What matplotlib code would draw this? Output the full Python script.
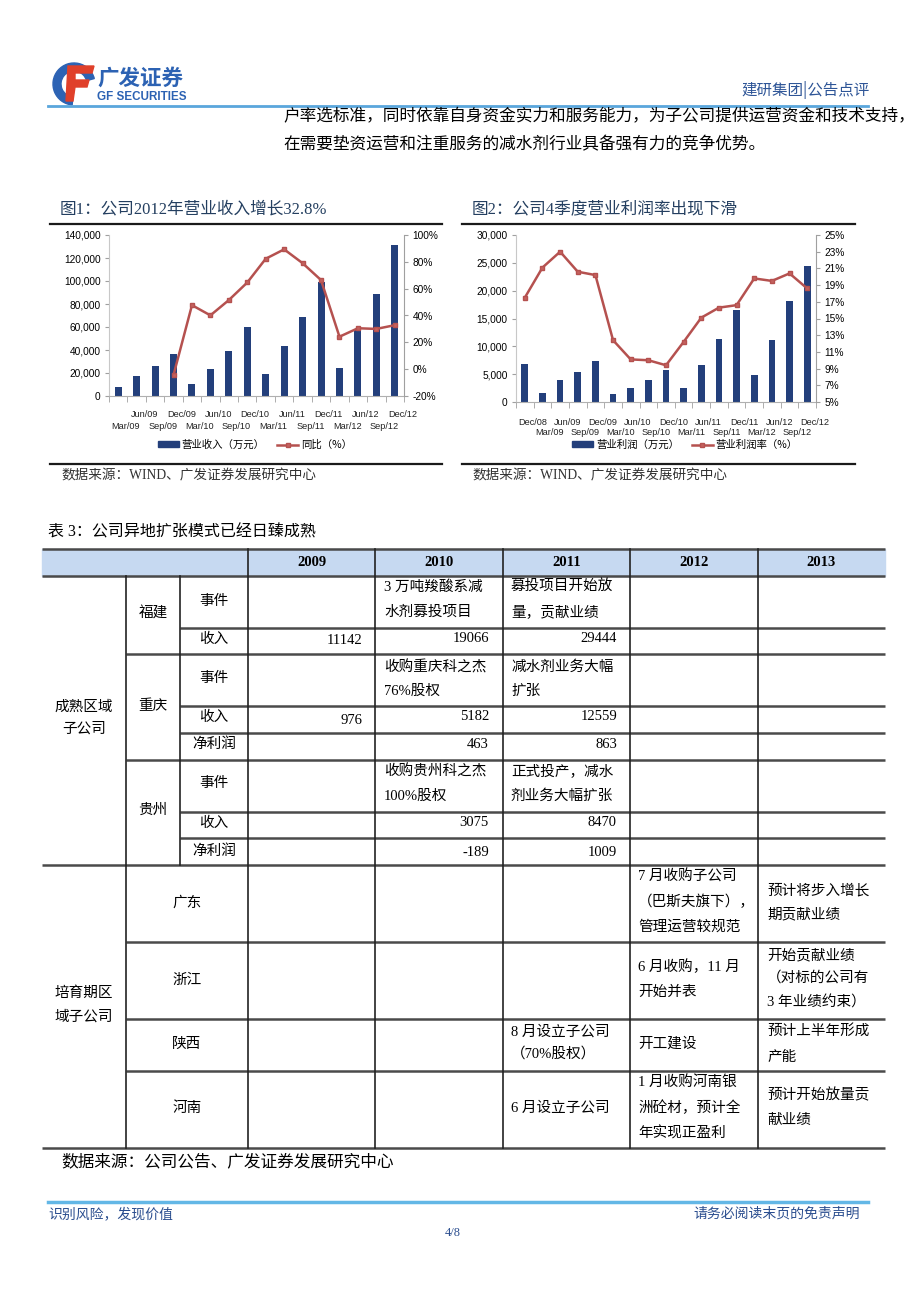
import matplotlib
matplotlib.use('Agg')
import matplotlib.pyplot as plt
import matplotlib.patches as mpatches
from matplotlib.lines import Line2D
import numpy as np

plt.rcParams['font.family'] = ['Noto Sans CJK SC', 'DejaVu Sans']

# ---------------- data ----------------
rev_labels = ['Mar/09', 'Jun/09', 'Sep/09', 'Dec/09', 'Mar/10', 'Jun/10', 'Sep/10', 'Dec/10',
              'Mar/11', 'Jun/11', 'Sep/11', 'Dec/11', 'Mar/12', 'Jun/12', 'Sep/12', 'Dec/12']
revenue = [7600, 17000, 26000, 36800, 10500, 23200, 38900, 59700,
           19000, 43500, 68800, 99300, 24000, 57300, 89000, 131500]
rev_yoy = [None, None, None, -4.3, 47.7, 40.1, 51.5, 64.6,
           82.3, 89.3, 79.0, 66.4, 24.2, 30.5, 30.0, 32.8]

prof_labels = ['Dec/08', 'Mar/09', 'Jun/09', 'Sep/09', 'Dec/09', 'Mar/10', 'Jun/10', 'Sep/10',
               'Dec/10', 'Mar/11', 'Jun/11', 'Sep/11', 'Dec/11', 'Mar/12', 'Jun/12', 'Sep/12', 'Dec/12']
op_profit = [6900, 1600, 3950, 5350, 7450, 1450, 2450, 3950,
             5800, 2450, 6600, 11250, 16500, 4800, 11150, 18100, 24500]
op_margin = [17.5, 21.1, 23.0, 20.6, 20.2, 12.4, 10.1, 10.0,
             9.4, 12.2, 15.1, 16.3, 16.6, 19.8, 19.5, 20.4, 18.6]

table_years = ['2009', '2010', '2011', '2012', '2013']

W, H = 920, 1301
fig = plt.figure(figsize=(9.2, 13.01), dpi=100)
bg = fig.add_axes([0, 0, 1, 1])
bg.set_xlim(0, W)
bg.set_ylim(H, 0)
bg.axis('off')

SERIF = ['Liberation Serif', 'Noto Sans CJK SC']
CJK = ['Noto Sans CJK SC', 'DejaVu Sans']
BAR_C = '#233F7B'
LINE_C = '#B5514F'


def T(x, y, s, size=10.5, ha='left', va='center', color='black', family=None, weight='normal'):
    bg.text(x, y, s, fontsize=size, ha=ha, va=va, color=color,
            family=family if family else CJK, fontweight=weight)


# ---------------- page header ----------------
bg.add_patch(mpatches.Wedge((74, 84), 21, 95, 345, width=8, color='#2D63B4'))
bg.add_patch(mpatches.Polygon([(68, 66), (94, 66), (92, 73), (75, 73), (75, 80), (89, 80),
                               (87, 87), (75, 87), (73, 101), (66, 101)], closed=True,
                              color='#E0402A'))
T(97, 78, '广发证券', size=15.5, color='#2C62B3', weight='bold')
T(97, 97, 'GF SECURITIES', size=8.4, color='#2C62B3', weight='bold', family=['Liberation Sans'])
T(870, 90, '建研集团|公告点评', size=11.2, ha='right', color='#2E5597')
bg.plot([48, 868], [106, 106], color='#5AA6DC', lw=2)

T(283, 117, '户率选标准，同时依靠自身资金实力和服务能力，为子公司提供运营资金和技术支持，', size=12)
T(283, 145, '在需要垫资运营和注重服务的减水剂行业具备强有力的竞争优势。', size=12)

# ---------------- charts ----------------


def px_axes(x0, y0, x1, y1):
    return fig.add_axes([x0 / W, 1 - y1 / H, (x1 - x0) / W, (y1 - y0) / H])


def draw_chart(box, labels, bars, line, ylim, yticks, yfmt, y2lim, y2ticks, y2fmt,
               leg_labels, leg_cx, even_lower, dys):
    ax = px_axes(*box)
    n = len(labels)
    x = np.arange(n)
    ax.bar(x, bars, width=0.38, color=BAR_C, zorder=2)
    ax.set_xlim(-0.5, n - 0.5)
    ax.set_ylim(*ylim)
    ax.set_yticks(yticks)
    ax.set_yticklabels([yfmt(v) for v in yticks], fontsize=7.3, family=['Liberation Sans'])
    ax.set_xticks([])
    ax.set_xticks(np.arange(-0.5, n, 1), minor=True)
    ax.tick_params(axis='x', which='minor', length=4, color='#A0A0A0')
    ax.tick_params(axis='y', length=3, color='#A0A0A0', pad=3)
    ax.patch.set_alpha(0)
    for s in ['top', 'right']:
        ax.spines[s].set_visible(False)
    ax.spines['left'].set_color('#C8C8C8')
    ax.spines['bottom'].set_color('#B0B0B0')
    ax2 = ax.twinx()
    xs = [i for i, v in enumerate(line) if v is not None]
    ys = [v for v in line if v is not None]
    ax2.plot(xs, ys, color=LINE_C, lw=1.8, marker='s', ms=3, mfc='#C4625E', mec=LINE_C, zorder=3)
    ax2.set_ylim(*y2lim)
    ax2.set_yticks(y2ticks)
    ax2.set_yticklabels([y2fmt(v) for v in y2ticks], fontsize=7.3, family=['Liberation Sans'])
    ax2.tick_params(axis='y', length=3, color='#A0A0A0', pad=3)
    for s in ['top', 'left', 'bottom']:
        ax2.spines[s].set_visible(False)
    ax2.spines['right'].set_color('#A0A0A0')
    for i, lab in enumerate(labels):
        lower = (i % 2 == 0) == even_lower
        ax.text(i + 0.42, -(dys[1] if lower else dys[0]), lab, transform=ax.get_xaxis_transform(),
                ha='center', va='center', fontsize=6.6, family=['Liberation Sans'], color='#222222')
    handles = [mpatches.Patch(color=BAR_C),
               Line2D([], [], color=LINE_C, lw=1.8, marker='s', ms=3, mfc='#C4625E')]
    fig.legend(handles, leg_labels, loc='center', bbox_to_anchor=(leg_cx / W, 1 - 445 / H),
               ncol=2, frameon=False, handlelength=2.0, handleheight=0.5,
               columnspacing=1.2, handletextpad=0.3, prop={'family': CJK, 'size': 7.5})
    return ax, ax2


draw_chart((109, 235, 404, 396), rev_labels, revenue, rev_yoy,
           (0, 140000), list(range(0, 140001, 20000)), lambda v: f'{v:,}',
           (-20, 100), list(range(-20, 101, 20)), lambda v: f'{v}%',
           ['营业收入（万元）', '同比（%）'], 255, True, (0.118, 0.190))

draw_chart((516, 235, 816, 402), prof_labels, op_profit, op_margin,
           (0, 30000), list(range(0, 30001, 5000)), lambda v: f'{v:,}',
           (5, 25), list(range(5, 26, 2)), lambda v: f'{v}%',
           ['营业利润（万元）', '营业利润率（%）'], 685, False, (0.120, 0.180))

# chart titles / rules / sources
TITLE_C = '#243F60'
T(60, 209, '图1：公司2012年营业收入增长32.8%', size=12, color=TITLE_C, family=SERIF)
T(472, 209, '图2：公司4季度营业利润率出现下滑', size=12, color=TITLE_C, family=SERIF)
for x0, x1 in [(50, 442), (462, 855)]:
    bg.plot([x0, x1], [224, 224], color='#1A1A1A', lw=1.6)
    bg.plot([x0, x1], [464, 464], color='#1A1A1A', lw=1.6)
T(61, 476, '数据来源：WIND、广发证券发展研究中心', size=9.8, color='#333333', family=SERIF)
T(472, 476, '数据来源：WIND、广发证券发展研究中心', size=9.8, color='#333333', family=SERIF)

# ---------------- table ----------------
T(48, 533, '表 3：公司异地扩张模式已经日臻成熟', size=11.5, family=SERIF)

xl, xr = 42, 885
cols = [248, 375, 503, 630, 758, 885]
bg.add_patch(mpatches.Rectangle((xl, 549), xr - xl, 27, color='#C6D9F1', zorder=0))
for i, yr in enumerate(table_years):
    T((cols[i] + cols[i + 1]) / 2, 562, yr, size=10.5, ha='center', weight='bold', family=SERIF)

LC = '#4A4A4A'
hlines = [(549, 42), (576, 42), (628, 180), (654, 126), (706, 180), (733, 180), (760, 126),
          (812, 180), (838, 180), (865, 42), (942, 126), (1019, 126), (1071, 126), (1148, 42)]
for y, x0 in hlines:
    bg.plot([x0, xr], [y, y], color=LC, lw=1.8, solid_capstyle='butt')
vlines = [(126, 576, 1148), (180, 576, 865)] + [(c, 549, 1148) for c in cols[:-1]]
for x, y0, y1 in vlines:
    bg.plot([x, x], [y0, y1], color='#222222', lw=1.2)

TS = 10.5
T(84, 707, '成熟区域', size=TS, ha='center', family=SERIF)
T(84, 729, '子公司', size=TS, ha='center', family=SERIF)
T(84, 993, '培育期区', size=TS, ha='center', family=SERIF)
T(84, 1017, '域子公司', size=TS, ha='center', family=SERIF)
for name, y in [('福建', 614), ('重庆', 706), ('贵州', 810)]:
    T(153, y, name, size=TS, ha='center', family=SERIF)
for name, y in [('事件', 601), ('收入', 639), ('事件', 678), ('收入', 717), ('净利润', 744),
                ('事件', 783), ('收入', 823), ('净利润', 851)]:
    T(214, y, name, size=TS, ha='center', family=SERIF)

nums = [(362, 640, '11142'), (489, 639, '19066'), (617, 639, '29444'),
        (362, 720, '976'), (489, 717, '5182'), (617, 717, '12559'),
        (489, 744, '463'), (617, 744, '863'),
        (489, 823, '3075'), (617, 823, '8470'),
        (489, 852, '-189'), (617, 852, '1009')]
for x, y, s in nums:
    T(x, y, s, size=TS, ha='right', family=SERIF)

events = [(384, 587, '3 万吨羧酸系减'), (384, 612, '水剂募投项目'),
          (511, 587, '募投项目开始放'), (511, 612, '量，贡献业绩'),
          (384, 667, '收购重庆科之杰'), (384, 691, '76%股权'),
          (511, 667, '减水剂业务大幅'), (511, 691, '扩张'),
          (384, 771, '收购贵州科之杰'), (384, 796, '100%股权'),
          (511, 771, '正式投产，减水'), (511, 796, '剂业务大幅扩张'),
          (638, 877, '7 月收购子公司'), (638, 902, '（巴斯夫旗下），'), (638, 927, '管理运营较规范'),
          (767, 891, '预计将步入增长'), (767, 914, '期贡献业绩'),
          (638, 967, '6 月收购，11 月'), (638, 992, '开始并表'),
          (767, 955, '开始贡献业绩'), (767, 978, '（对标的公司有'), (767, 1003, '3 年业绩约束）'),
          (511, 1032, '8 月设立子公司'), (511, 1054, '（70%股权）'),
          (638, 1044, '开工建设'),
          (767, 1031, '预计上半年形成'), (767, 1057, '产能'),
          (511, 1108, '6 月设立子公司'),
          (638, 1083, '1 月收购河南银'), (638, 1108, '洲砼材，预计全'), (638, 1133, '年实现正盈利'),
          (767, 1095, '预计开始放量贡'), (767, 1120, '献业绩')]
for x, y, s in events:
    T(x, y, s, size=TS, family=SERIF)

for name, y in [('广东', 903), ('浙江', 980), ('陕西', 1044), ('河南', 1108)]:
    T(187, y, name, size=TS, ha='center', family=SERIF)

T(61, 1162, '数据来源：公司公告、广发证券发展研究中心', size=12, family=SERIF)

# ---------------- footer ----------------
bg.plot([48, 868], [1202, 1202], color='#63B7E6', lw=2.5)
T(48, 1214, '识别风险，发现价值', size=10, color='#2A4D8F')
T(860, 1214, '请务必阅读末页的免责声明', size=10, ha='right', color='#2A4D8F')
T(453, 1233, '4/8', size=9, ha='center', color='#2A4D8F', family=SERIF)

fig.savefig('out.png', dpi=100)
